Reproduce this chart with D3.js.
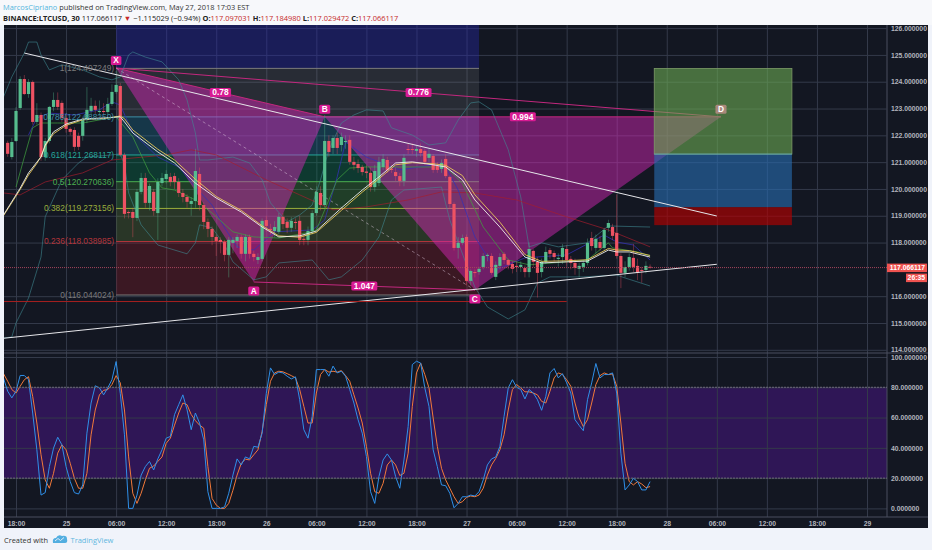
<!DOCTYPE html>
<html>
<head>
<meta charset="utf-8">
<script src="https://cdn.jsdelivr.net/npm/d3@7"></script>
<style>
  html, body { margin: 0; padding: 0; background: #f0f3fa; overflow: hidden; }
  svg { display: block; }
  .axis text { font-family: "Liberation Sans", sans-serif; font-size: 6.8px; font-weight: bold; fill: #b2b5be; }
  .axis path { display: none; }
  .axis line { stroke: #343a4a; stroke-width: 1; }
</style>
</head>
<body>
<script>
const WIDTH = 932;
const HEIGHT = 550;

// time axis, one bar is 30 minutes, bar 0 is May 24 18:00
const tickBars = [0, 12, 24, 36, 48, 60, 72, 84, 96, 108, 120, 132, 144, 156, 168, 180, 192, 204];
const tickLabels = ["18:00", "25", "06:00", "12:00", "18:00", "26", "06:00", "12:00", "18:00", "27", "06:00", "12:00", "18:00", "28", "06:00", "12:00", "18:00", "29"];
// 117 sits under the last price tag in the reference
const priceTicks = [114, 115, 116, 118, 119, 120, 121, 122, 123, 124, 125, 126];
const stochTicks = [0, 20, 40, 60, 80, 100];

// candles, bar -2 to bar 152
const firstBar = -2;
const opens = [121.72,121.19,121.79,123.02,124.10,123.54,123.99,122.50,122.76,121.19,121.79,123.06,123.32,123.21,122.65,122.24,122.20,121.98,121.98,122.57,122.91,123.10,122.87,122.91,122.87,123.17,123.62,
  123.84,121.27,119.14,119.14,118.92,119.89,120.41,119.48,119.89,119.10,120.22,120.37,120.45,120.48,120.26,119.85,119.70,119.44,119.55,120.56,119.40,118.77,118.51,118.21,118.10,118.02,117.54,117.99,118.06,118.21,117.58,118.21,117.58,117.35,117.39,
  118.84,118.51,118.43,118.40,118.96,118.77,118.55,118.77,118.81,118.14,118.10,118.43,119.10,119.85,119.40,121.79,121.53,121.90,121.64,121.75,121.83,121.01,120.93,120.82,120.65,120.60,120.07,120.22,120.82,121.08,120.75,120.63,120.48,120.30,
  121.49,121.49,121.42,121.49,121.42,121.16,121.23,120.86,120.75,121.12,120.45,119.44,117.80,117.99,118.21,116.57,116.90,116.90,117.09,117.50,117.50,116.72,117.13,117.58,117.35,117.20,117.13,117.09,117.05,116.90,117.69,117.28,116.90,117.28,117.72,117.61,117.39,117.46,117.76,117.39,117.24,117.02,117.09,117.24,118.17,117.80,118.02,117.80,118.55,118.58,118.36,117.50,116.87,117.09,117.43,117.13,116.98,116.98,117.097];
const highs = [121.80,121.90,123.05,124.20,124.25,124.10,124.05,123.20,122.85,121.90,123.10,123.60,123.60,123.30,122.80,122.30,122.30,122.10,122.70,123.80,123.40,123.30,123.30,123.20,123.40,123.90,124.40,
  123.95,121.35,119.20,119.30,120.00,120.60,120.60,120.20,120.00,120.40,120.60,120.70,120.60,120.60,120.40,120.00,119.80,119.70,121.50,120.80,119.50,118.90,118.60,118.30,118.20,118.10,118.20,118.20,118.30,118.30,118.30,118.30,117.70,117.60,118.90,
  119.00,118.70,118.80,119.10,119.10,118.90,118.95,118.90,119.00,118.30,118.60,119.20,120.10,120.10,122.75,122.00,122.00,122.10,122.10,122.00,122.00,121.20,121.10,120.90,120.90,120.80,120.90,121.20,121.30,121.20,120.90,120.80,120.60,121.30,
  121.70,121.70,121.60,121.70,121.50,121.50,121.30,121.00,121.10,121.30,120.50,119.50,118.20,118.30,118.30,117.00,117.00,117.10,117.60,117.60,117.60,117.30,117.60,117.65,117.40,117.30,117.30,117.30,117.15,118.00,117.75,117.45,117.40,117.85,117.80,117.70,117.60,117.95,117.90,117.50,117.40,117.25,117.35,118.15,118.40,118.30,118.25,118.55,118.85,118.70,119.80,117.60,117.30,117.60,117.95,117.40,117.10,117.30,117.185];
const lows = [121.20,121.10,121.75,122.95,123.50,123.40,122.40,122.40,121.05,121.05,121.70,122.90,122.95,122.50,122.10,122.00,121.40,121.45,121.80,122.45,122.80,122.80,122.70,122.75,122.75,123.10,123.55,
  121.20,118.90,118.90,118.20,118.80,119.80,119.30,119.20,119.00,118.10,120.10,120.20,120.10,120.00,119.70,119.50,119.30,119.00,119.30,119.20,118.50,118.20,117.90,117.50,117.60,117.30,116.70,117.60,117.80,117.40,117.30,117.40,117.30,117.20,117.30,
  118.40,118.30,118.20,118.30,118.50,118.35,118.40,118.50,117.90,117.90,117.90,118.30,119.00,119.20,119.30,121.20,121.30,121.30,121.40,121.50,120.90,120.70,120.60,120.50,120.40,119.90,119.90,120.10,120.70,120.60,120.60,120.30,120.10,120.10,
  121.30,121.30,121.20,121.20,120.90,121.00,120.60,120.60,120.60,120.40,119.30,117.70,117.40,117.90,116.40,116.40,116.70,116.80,117.00,117.30,116.80,116.60,117.00,117.20,117.00,116.85,116.90,116.90,116.70,116.70,117.10,115.95,116.70,117.20,117.40,117.30,117.10,117.20,117.10,117.00,116.80,116.70,116.90,117.15,117.70,117.60,117.70,117.70,118.40,118.10,117.40,116.30,116.70,116.95,116.90,116.60,116.50,116.85,117.029];
const closes = [121.31,121.75,122.91,124.10,123.54,123.99,122.50,122.76,121.19,121.79,123.06,123.32,123.06,122.65,122.24,122.13,121.57,121.57,122.57,122.95,123.10,122.95,122.91,122.87,123.17,123.62,123.88,
  121.27,119.07,119.10,118.92,119.89,120.41,119.48,120.11,119.18,120.26,120.41,120.56,120.26,120.26,119.85,119.70,119.52,119.55,120.67,119.40,118.77,118.51,118.21,118.06,118.02,117.54,118.10,118.10,118.21,117.58,118.21,117.58,117.46,117.46,118.81,
  118.62,118.47,118.58,118.96,118.69,118.55,118.81,118.73,118.10,118.10,118.43,119.10,119.89,119.40,121.79,121.38,121.90,121.53,121.94,121.79,121.01,120.90,120.78,120.63,120.60,120.07,120.67,121.01,121.12,120.71,120.71,120.48,120.30,121.16,
  121.46,121.46,121.49,121.34,121.01,121.31,120.71,120.71,120.97,120.48,119.44,117.80,117.99,118.17,116.57,116.94,116.87,117.02,117.50,117.54,116.87,117.17,117.46,117.35,117.17,117.02,117.09,117.17,116.90,117.76,117.28,116.87,117.28,117.65,117.58,117.46,117.43,117.80,117.35,117.24,117.05,117.13,117.24,117.99,117.87,118.14,117.80,118.47,118.73,118.25,117.50,116.87,117.09,117.46,117.09,116.87,116.94,117.13,117.066];

// moving averages and bands, [bars] and [prices]
const whiteBars = [-3,1,3,5,6,7,9,12,16,21,25,26,28,34,38,43,48,54,59,63,68,72,78,83,87,91,95,100,103,107,110,116,122,126,132,137,142,144,147,152];
const whitePrices = [119.03,120.03,120.60,121.00,121.19,121.64,122.13,122.42,122.61,122.65,122.69,122.50,122.09,121.38,120.97,120.22,119.66,119.14,118.58,118.21,118.25,118.43,119.29,119.96,120.45,120.97,121.01,120.90,120.82,120.34,119.59,118.58,117.46,117.24,117.28,117.31,117.72,117.65,117.65,117.46];
const yellowPrices = [119.00,119.98,120.52,120.95,121.22,121.60,122.06,122.37,122.58,122.62,122.72,122.62,122.20,121.48,121.08,120.36,119.72,119.20,118.63,118.25,118.20,118.38,119.20,119.88,120.38,120.90,120.98,120.94,120.88,120.50,119.78,118.76,117.55,117.30,117.32,117.36,117.78,117.72,117.70,117.52];
const greenBars = [0,2,4,6,10,16,24,28,32,35,38,43,47,52,57,63,71,72,77,80,84,90,103,107,112,118,123,132,137,142,143,149,152];
const greenPrices = [120.07,121.19,122.28,122.46,122.46,122.46,122.69,121.94,120.60,120.04,119.96,119.59,119.10,118.40,118.21,118.17,118.40,118.47,120.34,120.78,120.82,120.82,120.82,120.22,118.58,117.35,117.17,117.28,117.35,117.99,117.80,117.65,117.50];
const blueBars = [3,5,8,14,20,23,25,28,34,39,43,47,50,53,57,62,71,74,77,79,84,92,100,103,106,110,115,122,132,141,144,148,152];
const bluePrices = [122.01,122.65,122.83,122.76,122.95,123.25,123.13,122.09,121.19,120.82,120.07,119.40,118.55,117.84,117.72,118.40,118.47,118.84,120.45,121.75,121.19,120.71,120.90,120.82,119.96,118.21,116.98,117.43,117.54,118.28,118.02,117.91,117.35];
const upperBars = [-3,-1,2,3,5,6,8,11,16,20,23,25,27,28,31,35,39,41,43,44,46,52,56,59,61,65,68,71,73,75,78,81,84,88,90,95,99,103,106,109,111,114,118,121,123,126,130,137,142,152];
const upperPrices = [123.43,124.18,125.07,125.48,125.48,125.00,124.44,124.63,124.44,124.18,124.07,124.18,125.00,125.11,124.92,124.74,124.07,123.32,122.09,121.08,121.08,121.19,120.97,120.34,119.48,118.77,119.03,119.40,120.34,121.46,122.46,122.76,122.95,122.91,122.28,122.01,121.64,121.72,122.57,123.21,123.25,122.95,121.46,119.70,117.84,117.99,117.84,117.99,118.62,118.58];
const lowerBars = [-3,-1,0,3,6,7,11,15,17,23,25,26,27,30,34,41,43,44,47,50,52,57,60,63,71,75,78,83,87,90,93,102,104,110,113,118,122,125,128,136,144,146,152];
const lowerPrices = [114.44,114.48,115.00,115.93,117.46,118.96,120.34,120.97,121.19,121.27,121.31,120.90,119.85,118.66,117.91,117.58,117.99,118.66,118.55,117.91,117.28,116.61,116.72,117.24,117.35,116.61,116.72,117.35,118.21,119.59,119.96,120.07,118.84,116.34,115.60,115.15,115.49,116.49,116.72,116.72,116.79,116.68,116.38];
const midBars = [-3,1,7,16,23,36,42,48,60,68,76,84,94,102,110,120,132,142,152];
const midPrices = [119.85,119.78,120.26,120.60,121.08,121.27,121.46,121.27,120.34,119.78,119.22,119.33,119.59,119.89,119.85,119.59,118.96,118.47,117.84];

// stochastic, one value per bar from bar -3
const stochStart = -3;
const stochK = [86,77.4,73,77.4,87.8,87.8,85,63,38.7,8.8,10.4,27.6,39.8,47,42,27.6,17.7,10.4,9.5,15.5,49.7,69.6,81,79.6,75,79.6,85,97,76,48.6,0,0,8.8,22,27.6,31,25.4,32.7,38.7,46.4,47.5,61.9,68.5,75,65.2,52,63,56.4,45.3,11,0,0,0,1,10,22,32.7,28.7,34,32.7,41,40.4,49.7,76,92.8,88.4,90,89.5,87.3,85.5,86.9,71.8,52,46.4,60.8,91.7,91.7,91.7,87.3,
  94,89.5,90.6,87.3,78.5,69.6,58.6,49.7,34.3,11,3.3,21,32,36,32,21,13.3,32,54,95,97.2,96,79.6,67.4,38.7,27.6,15.5,15,10,0.4,3.3,7.7,7.7,8.8,8.2,11,18.8,28.7,32.7,34,41,60.8,79.6,85,80,78.5,72.3,78.5,76.2,71.8,64.8,74,89.5,92.4,86.2,89,82.9,76.2,58.6,54.8,51.3,71.8,82.9,95.7,86.2,88.4,88.4,89.5,76.2,36.5,12.2,15.5,19.9,17.7,12.2,12.2,17.7];
const stochD = [89,84,78.5,76.2,80.7,85,87,74,56.4,35.4,18.8,13.3,23.2,36.5,42,38.7,29.8,19.9,13.3,13.3,23.2,48.6,65,75,78,78.5,81.8,87.7,82.9,65,34,10,3.3,10,18.8,26.5,28,31,34,43,46.4,55,63,69.6,68.5,62,58,55,53,27.6,6.6,2.2,0,0,3.3,12,22,29.8,32.5,32,35.4,38.7,50.8,68.5,84,89.5,90.6,90.2,89,87.7,86.2,78.5,67.4,56.4,56.4,76.2,88.4,91.7,90,
  90.6,90,91,87.7,84,75,66.3,56.4,41,23.2,11,10,16.6,28.7,32,28.7,21.7,23.2,36.5,67.4,89.5,96,88.4,79.6,59.7,41,26.5,18.8,13.3,7.7,3.3,4.4,7.3,8.2,7.7,8.8,13.3,22,28.7,33,38.7,48.6,65,78.5,81.8,79.6,77,77,76.2,75,70.7,69.6,77.4,86.2,89.5,88.4,85,80.7,69.6,59.7,54,58.6,69.6,81.8,87.7,89.5,88.4,88.8,80.7,56.4,29.8,17.7,15.5,17.7,16.1,13.7,14.4];

// fibonacci levels
const fibStartBar = 24;
const fibEndBar = 111;
const fibRatios = [1, 0.786, 0.618, 0.5, 0.382, 0.236, 0];
const fibPrices = [124.497249, 122.688259, 121.268117, 120.270636, 119.273156, 118.038985, 116.044024];
const fibLines = ["#7b7b7b", "#3f8fa5", "#26a69a", "#4caf50", "#9aae3c", "#b3353a", "#7b7b7b"];
const fibFills = ["rgba(150,150,150,0.17)", "rgba(30,150,190,0.25)", "rgba(0,160,90,0.25)", "rgba(70,170,60,0.27)", "rgba(130,180,60,0.2)", "rgba(190,30,40,0.24)"];

// XABCD pattern
const patternNames = ["X", "A", "B", "C", "D"];
const patternBars = [24, 57, 74, 110, 169];
const patternPrices = [124.51, 116.53, 122.69, 116.23, 122.69];
const ratioLabels = ["0.78", "0.776", "0.994", "1.047"];
const ratioLegs = [["X", "B"], ["X", "D"], ["B", "D"], ["A", "C"]];

// position box
const boxBars = [153, 186];
const boxPrices = [124.497, 121.30, 119.32, 118.65];

// hand drawn lines
const trendBars = [[2, 168], [-3, 168], [-3, 132]];
const trendPrices = [[125.07, 118.99], [114.43, 117.19], [115.80, 115.80]];
const lastPrice = 117.066117;

const GREEN = "#56bd8e";
const RED = "#ee5263";
const LEFT = 4, RIGHT = 887, TOP = 25, PRICE_BOTTOM = 353, BOTTOM = 517, CHART_BOTTOM = 528;

const xScale = d3.scaleLinear().domain([0, 204]).range([16, 867]);
const yPrice = d3.scaleLinear().domain([114, 126]).range([349.8, 28.1]);
const yStoch = d3.scaleLinear().domain([0, 100]).range([508.4, 357]);

const svg = d3.select("body").append("svg").attr("width", WIDTH).attr("height", HEIGHT);

//header above the chart
const drawHeader = () => {
  const first = svg.append("text")
    .attr("x", 3).attr("y", 10)
    .style("font-family", "'Open Sans', sans-serif").style("font-size", "7.4px").style("fill", "#333");
  first.append("tspan").style("fill", "#55b6dd").text("MarcosCipriano");
  first.append("tspan").text(" published on TradingView.com, May 27, 2018 17:03 EST");

  const second = svg.append("text")
    .attr("x", 3).attr("y", 20.5)
    .style("font-family", "'Open Sans', sans-serif").style("font-size", "7.45px").style("fill", "#222");
  const dark = t => second.append("tspan").style("font-weight", "bold").text(t);
  const red = t => second.append("tspan").style("fill", "#c62828").text(t);
  dark("BINANCE:LTCUSD, 30");
  second.append("tspan").text("  117.066117 ");
  red("▼");
  second.append("tspan").text(" −1.115029 (−0.94%) ");
  dark("O:"); red("117.097031 ");
  dark("H:"); red("117.184980 ");
  dark("L:"); red("117.029472 ");
  dark("C:"); red("117.066117");
};

//dark background and the purple band of the stochastic
const drawPanes = () => {
  svg.append("rect").attr("x", LEFT).attr("y", TOP)
    .attr("width", 928 - LEFT).attr("height", CHART_BOTTOM - TOP).attr("fill", "#131722");
  svg.append("rect").attr("x", LEFT).attr("y", yStoch(80))
    .attr("width", RIGHT - LEFT).attr("height", yStoch(20) - yStoch(80)).attr("fill", "#2f1656");
};

//the axes also draw the grid
const drawAxes = () => {
  const xAxis = d3.axisBottom(xScale)
    .tickValues(tickBars)
    .tickFormat((d, i) => tickLabels[i])
    .tickSize(-(BOTTOM - TOP))
    .tickPadding(3);
  const gx = svg.append("g").attr("class", "axis").attr("transform", `translate(0,${BOTTOM})`).call(xAxis);
  gx.selectAll("text").attr("dy", "0.35em").attr("y", 6.5);

  const priceAxis = d3.axisRight(yPrice)
    .tickValues(priceTicks)
    .tickFormat(d3.format(".6f"))
    .tickSize(-(RIGHT - LEFT))
    .tickPadding(4);
  const gp = svg.append("g").attr("class", "axis").attr("transform", `translate(${RIGHT},0)`).call(priceAxis);

  const stochAxis = d3.axisRight(yStoch)
    .tickValues(stochTicks)
    .tickFormat(d3.format(".6f"))
    .tickSize(-(RIGHT - LEFT))
    .tickPadding(4);
  svg.append("g").attr("class", "axis").attr("transform", `translate(${RIGHT},0)`).call(stochAxis);

  // pane borders
  [PRICE_BOTTOM, BOTTOM].forEach(y => {
    svg.append("line").attr("x1", LEFT).attr("x2", 928).attr("y1", y).attr("y2", y).attr("stroke", "#4a4f5e");
  });
  svg.append("line").attr("x1", RIGHT).attr("x2", RIGHT).attr("y1", TOP).attr("y2", BOTTOM).attr("stroke", "#4a4f5e");
  gp.raise();
};

//the fibonacci retracement
const drawFib = (g) => {
  const x0 = xScale(fibStartBar), x1 = xScale(fibEndBar);

  g.append("rect").attr("x", x0).attr("y", TOP)
    .attr("width", x1 - x0).attr("height", yPrice(fibPrices[0]) - TOP)
    .attr("fill", "rgba(40,40,190,0.35)");

  g.selectAll(".fibband").data(fibFills).enter().append("rect")
    .attr("x", x0).attr("width", x1 - x0)
    .attr("y", (d, i) => yPrice(fibPrices[i]))
    .attr("height", (d, i) => yPrice(fibPrices[i + 1]) - yPrice(fibPrices[i]))
    .attr("fill", d => d);

  g.selectAll(".fibline").data(fibPrices).enter().append("line")
    .attr("x1", x0).attr("x2", x1)
    .attr("y1", d => yPrice(d)).attr("y2", d => yPrice(d))
    .attr("stroke", (d, i) => fibLines[i]).attr("stroke-width", 1);
};

const drawFibLabels = (g) => {
  g.selectAll(".fiblabel").data(fibPrices).enter().append("text")
    .attr("x", xScale(fibStartBar) - 2)
    .attr("y", d => yPrice(d))
    .attr("dy", "0.35em")
    .attr("text-anchor", "end")
    .style("font-family", "'Liberation Sans', sans-serif")
    .style("font-size", "8.4px")
    .style("fill", (d, i) => fibLines[i])
    .text((d, i) => fibRatios[i] + "(" + d.toFixed(6) + ")");
};

//pink XABCD triangles and their legs
const patternPoint = name => {
  const i = patternNames.indexOf(name);
  return [xScale(patternBars[i]), yPrice(patternPrices[i])];
};

const drawPattern = (g) => {
  const poly = d3.line();
  [["X", "A", "B"], ["B", "C", "D"]].forEach(tri => {
    g.append("path")
      .attr("d", poly(tri.map(patternPoint)) + "Z")
      .attr("fill", "rgba(225,40,190,0.45)");
  });
  ratioLegs.forEach(leg => {
    g.append("path")
      .attr("d", poly(leg.map(patternPoint)))
      .attr("stroke", "#c2287e").attr("stroke-width", 1).attr("fill", "none");
  });
  g.append("path")
    .attr("d", poly(["X", "C"].map(patternPoint)))
    .attr("stroke", "rgba(230,210,230,0.45)").attr("stroke-dasharray", "3 3").attr("fill", "none");
};

//small rounded tag with text
const tag = (g, cx, cy, label, fill) => {
  const t = g.append("text").attr("x", cx).attr("y", cy).attr("dy", "0.35em")
    .attr("text-anchor", "middle")
    .style("font-family", "'Liberation Sans', sans-serif").style("font-size", "8.4px").style("font-weight", "bold")
    .style("fill", "#fff").text(label);
  const w = t.node().getComputedTextLength() + 5;
  g.insert("rect", () => t.node())
    .attr("x", cx - w / 2).attr("y", cy - 4.5).attr("width", w).attr("height", 9).attr("rx", 1.5)
    .attr("fill", fill);
};

const drawPatternLabels = (g) => {
  patternNames.forEach((name, i) => {
    const [px, py] = patternPoint(name);
    const below = name === "A" || name === "C";
    tag(g, px, py + (below ? 9 : -7.5), name, name === "D" ? "#a8887a" : "#d81b93");
  });
  ratioLabels.forEach((label, i) => {
    const [a, b] = ratioLegs[i].map(patternPoint);
    tag(g, (a[0] + b[0]) / 2, (a[1] + b[1]) / 2, label, "#d81b93");
  });
};

//target and stop box
const drawBox = (g) => {
  const x0 = xScale(boxBars[0]), x1 = xScale(boxBars[1]);
  const fills = ["rgba(110,175,85,0.58)", "rgba(40,110,180,0.6)", "rgba(180,0,0,0.65)"];
  fills.forEach((fill, i) => {
    g.append("rect").attr("x", x0).attr("width", x1 - x0)
      .attr("y", yPrice(boxPrices[i]))
      .attr("height", yPrice(boxPrices[i + 1]) - yPrice(boxPrices[i]))
      .attr("fill", fill);
  });
  g.append("rect").attr("x", x0).attr("y", yPrice(boxPrices[0]))
    .attr("width", x1 - x0).attr("height", yPrice(boxPrices[1]) - yPrice(boxPrices[0]))
    .attr("fill", "none").attr("stroke", "#7d9a68").attr("stroke-width", 0.8);
  g.append("line").attr("x1", x0).attr("x2", x1)
    .attr("y1", yPrice(boxPrices[1])).attr("y2", yPrice(boxPrices[1]))
    .attr("stroke", "#5fb0c0").attr("stroke-width", 0.8);
};

const linePath = (bars, values) => d3.line().x((d, i) => xScale(bars[i])).y(d => yPrice(d))(values);

const drawIndicators = (g) => {
  const add = (bars, values, color, width, opacity) => g.append("path")
    .attr("d", linePath(bars, values))
    .attr("fill", "none").attr("stroke", color)
    .attr("stroke-width", width).attr("opacity", opacity);

  add(upperBars, upperPrices, "#3f8b94", 0.9, 0.65);
  add(lowerBars, lowerPrices, "#3f8b94", 0.9, 0.65);
  add(midBars, midPrices, "#a51d2d", 0.9, 0.75);
  add(blueBars, bluePrices, "#3330b5", 0.9, 0.85);
  add(greenBars, greenPrices, "#3fa03f", 0.9, 0.8);
};

const drawAverages = (g) => {
  const add = (values, color) => g.append("path")
    .attr("d", linePath(whiteBars, values))
    .attr("fill", "none").attr("stroke", color).attr("stroke-width", 0.9);
  add(yellowPrices, "#e6c75a");
  add(whitePrices, "#f1f1ec");
};

//the candles
const drawCandles = (g) => {
  const bars = opens.map((d, i) => i + firstBar);
  const up = i => closes[i] >= opens[i];
  g.selectAll(".wick").data(bars).enter().append("line")
    .attr("x1", d => xScale(d)).attr("x2", d => xScale(d))
    .attr("y1", (d, i) => yPrice(highs[i])).attr("y2", (d, i) => yPrice(lows[i]))
    .attr("stroke", (d, i) => up(i) ? GREEN : RED)
    .attr("stroke-width", 0.7).attr("opacity", 0.55);
  g.selectAll(".body").data(bars).enter().append("rect")
    .attr("x", d => xScale(d) - 1.6).attr("width", 3.2)
    .attr("y", (d, i) => yPrice(Math.max(opens[i], closes[i])))
    .attr("height", (d, i) => Math.max(1, Math.abs(yPrice(opens[i]) - yPrice(closes[i]))))
    .attr("fill", (d, i) => up(i) ? GREEN : RED);
};

const drawTrendLines = (g) => {
  trendBars.forEach((bars, i) => {
    g.append("path").attr("d", linePath(bars, trendPrices[i]))
      .attr("fill", "none")
      .attr("stroke", i < 2 ? "#e6e6ea" : "#a8201f")
      .attr("stroke-width", 1);
  });
  g.append("line").attr("x1", LEFT).attr("x2", RIGHT)
    .attr("y1", yPrice(lastPrice)).attr("y2", yPrice(lastPrice))
    .attr("stroke", "#a5455c").attr("stroke-dasharray", "1 1");
};

//last price tags on the axis
const drawPriceTags = () => {
  const y = yPrice(lastPrice);
  svg.append("rect").attr("x", RIGHT).attr("y", y - 4).attr("width", 40).attr("height", 8.5).attr("fill", "#ef5350");
  svg.append("text").attr("x", 925).attr("y", y).attr("dy", "0.35em").attr("text-anchor", "end")
    .style("font-family", "'Liberation Sans', sans-serif").style("font-size", "6.8px").style("font-weight", "bold")
    .style("fill", "#fff").text(lastPrice.toFixed(6));
  svg.append("rect").attr("x", 906).attr("y", y + 6).attr("width", 21).attr("height", 8.5).attr("fill", "#ef5350");
  svg.append("text").attr("x", 925).attr("y", y + 10.2).attr("dy", "0.35em").attr("text-anchor", "end")
    .style("font-family", "'Liberation Sans', sans-serif").style("font-size", "6.8px").style("font-weight", "bold")
    .style("fill", "#fff").text("26:35");
};

const drawStoch = () => {
  const g = svg.append("g").attr("clip-path", "url(#stochclip)");
  [[stochD, "#f2793a"], [stochK, "#2f8fe8"]].forEach(([values, color]) => {
    const line = d3.line().x((d, i) => xScale(i + stochStart)).y(d => yStoch(d));
    g.append("path").attr("d", line(values)).attr("fill", "none")
      .attr("stroke", color).attr("stroke-width", 1);
  });
  // dashed borders of the 20-80 band
  [20, 80].forEach(v => {
    svg.append("line").attr("x1", LEFT).attr("x2", RIGHT)
      .attr("y1", yStoch(v)).attr("y2", yStoch(v))
      .attr("stroke", "#6d6a78").attr("stroke-dasharray", "2 1");
  });
};

//created with line at the bottom
const drawFooter = () => {
  svg.append("text").attr("x", 4).attr("y", 542.5)
    .style("font-family", "'Open Sans', sans-serif").style("font-size", "7.4px").style("fill", "#333")
    .text("Created with");
  svg.append("path")
    .attr("d", "M53 543 q-1 -5 3 -5 q2 -4 6 -2 q5 -1 5 3 q1 4 -2 4 z")
    .attr("fill", "#52aee0");
  svg.append("path")
    .attr("d", "M55 541 l3 -2.5 l2.5 2 l3.5 -3")
    .attr("fill", "none").attr("stroke", "#f0f3fa").attr("stroke-width", 0.9);
  svg.append("text").attr("x", 70.5).attr("y", 542.5)
    .style("font-family", "'Open Sans', sans-serif").style("font-size", "7.5px").style("fill", "#5fb7e0")
    .text("TradingView");
};

//render everything
const rend = () => {
  svg.append("rect").attr("width", WIDTH).attr("height", HEIGHT).attr("fill", "#f0f3fa");
  svg.append("rect").attr("width", WIDTH).attr("height", TOP).attr("fill", "#f7f8fb");

  const defs = svg.append("defs");
  defs.append("clipPath").attr("id", "priceclip").append("rect")
    .attr("x", LEFT).attr("y", TOP).attr("width", RIGHT - LEFT).attr("height", PRICE_BOTTOM - TOP);
  defs.append("clipPath").attr("id", "stochclip").append("rect")
    .attr("x", LEFT).attr("y", PRICE_BOTTOM).attr("width", RIGHT - LEFT).attr("height", BOTTOM - PRICE_BOTTOM);

  drawHeader();
  drawPanes();
  drawAxes();

  const g = svg.append("g").attr("clip-path", "url(#priceclip)");
  drawFib(g);
  drawPattern(g);
  drawBox(g);
  drawIndicators(g);
  drawCandles(g);
  drawAverages(g);
  drawTrendLines(g);
  drawFibLabels(g);
  drawPatternLabels(g);

  drawPriceTags();
  drawStoch();
  drawFooter();
};

rend();
</script>
</body>
</html>
